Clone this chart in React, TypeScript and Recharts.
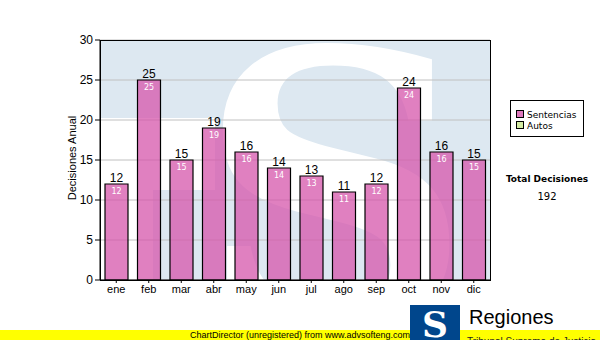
import React from "react";
import { BarChart, Bar, XAxis, YAxis, CartesianGrid, LabelList } from "recharts";

const months = ["ene", "feb", "mar", "abr", "may", "jun", "jul", "ago", "sep", "oct", "nov", "dic"];
const sentencias = [12, 25, 15, 19, 16, 14, 13, 11, 12, 24, 16, 15];
const autos = [0, 0, 0, 0, 0, 0, 0, 0, 0, 0, 0, 0];
const yTicks = [0, 5, 10, 15, 20, 25, 30];

const PINK = "#d656ab";
const GREEN = "#d4eca4";
const ARIAL = "'Liberation Sans', Arial, sans-serif";
const VERDANA = "'DejaVu Sans', Verdana, sans-serif";

const data = months.map((m, i) => ({ mes: m, sentencias: sentencias[i], autos: autos[i] }));
const total = sentencias.reduce((a, b) => a + b, 0) + autos.reduce((a, b) => a + b, 0);

// plot box, matches chart margins below
const PX = 100;
const PY = 40;
const PW = 390;
const PH = 240;

function Watermark() {
  return (
    <svg width={600} height={340} style={{ position: "absolute", left: 0, top: 0 }}>
      <defs>
        <clipPath id="plotclip">
          <rect x={PX} y={PY} width={PW} height={PH} />
        </clipPath>
      </defs>
      <g clipPath="url(#plotclip)">
        <rect x={PX} y={PY} width={PW} height={PH} fill="#dde8f1" />
        <path d="M100 118 L215 118 L215 190 L153 190 L153 280 L100 280 Z" fill="#fff" />
        <text
          x={335}
          y={325}
          textAnchor="middle"
          fontFamily="'DejaVu Serif', serif"
          fontWeight="bold"
          fontSize={380}
          fill="#fff"
        >
          S
        </text>
      </g>
    </svg>
  );
}

function Overlay() {
  return (
    <svg width={600} height={340} style={{ position: "absolute", left: 0, top: 0, pointerEvents: "none" }}>
      <rect x={PX + 0.5} y={PY + 0.5} width={PW} height={PH} fill="none" stroke="#000" />
      <text
        transform="translate(76,158) rotate(-90)"
        textAnchor="middle"
        fontFamily={ARIAL}
        fontSize={11}
        fill="#000"
      >
        Decisiones Anual
      </text>

      {/* legend */}
      <rect x={510.5} y={100.5} width={73} height={36} fill="#fff" stroke="#000" />
      <rect x={516.5} y={110.5} width={7} height={7} fill={PINK} fillOpacity={0.8} stroke="#000" />
      <text x={527} y={118} fontFamily={VERDANA} fontSize={9} fill="#000">Sentencias</text>
      <rect x={516.5} y={121.5} width={7} height={7} fill={GREEN} stroke="#000" />
      <text x={527} y={129} fontFamily={VERDANA} fontSize={9} fill="#000">Autos</text>

      <text x={547} y={182} textAnchor="middle" fontFamily={VERDANA} fontSize={9} fontWeight="bold" fill="#000">
        Total Decisiones
      </text>
      <text x={547} y={200} textAnchor="middle" fontFamily={VERDANA} fontSize={10} fill="#000">
        {total}
      </text>

      {/* footer */}
      <rect x={0} y={330} width={600} height={10} fill="#ffff00" />
      <text x={300} y={338} textAnchor="middle" fontFamily={ARIAL} fontSize={9} fill="#000">
        ChartDirector (unregistered) from www.advsofteng.com
      </text>
      <rect x={410} y={305} width={50} height={35} fill="#00468c" />
      <text x={435} y={337} textAnchor="middle" fontFamily="'DejaVu Serif', serif" fontWeight="bold" fontSize={36} fill="#fff">
        S
      </text>
      <text x={469} y={324} fontFamily={ARIAL} fontSize={20} fill="#000">Regiones</text>
      <text x={467} y={345} fontFamily={ARIAL} fontSize={10} fill="#222">Tribunal Supremo de Justicia</text>
    </svg>
  );
}

export default function App() {
  return (
    <div style={{ position: "relative", width: 600, height: 340, overflow: "hidden", background: "#fff" }}>
      <style>{"body{margin:0}"}</style>
      <Watermark />
      <BarChart
        width={600}
        height={340}
        data={data}
        margin={{ top: PY, right: 600 - PX - PW, bottom: 40, left: 40 }}
        style={{ fontFamily: ARIAL }}
      >
        <CartesianGrid horizontal vertical={false} stroke="#c0c0c0" />
        <XAxis
          dataKey="mes"
          height={20}
          tick={{ fill: "#000", fontSize: 11 }}
          tickSize={3}
          tickMargin={2}
          axisLine={{ stroke: "#000" }}
          tickLine={{ stroke: "#000" }}
        />
        <YAxis
          width={60}
          domain={[0, 30]}
          ticks={yTicks}
          interval={0}
          tick={{ fill: "#000", fontSize: 12 }}
          tickSize={5}
          tickMargin={2}
          axisLine={{ stroke: "#000" }}
          tickLine={{ stroke: "#000" }}
        />
        <Bar
          dataKey="sentencias"
          name="Sentencias"
          fill={PINK}
          fillOpacity={0.75}
          stroke="#000"
          strokeWidth={1.2}
          barSize={23}
          isAnimationActive={false}
        >
          <LabelList dataKey="sentencias" position="top" offset={2} fill="#000" fontSize={12} fontFamily={ARIAL} />
          <LabelList dataKey="sentencias" position="insideTop" offset={4} fill="#fff" fontSize={8} fontFamily={VERDANA} />
        </Bar>
      </BarChart>
      <Overlay />
    </div>
  );
}
